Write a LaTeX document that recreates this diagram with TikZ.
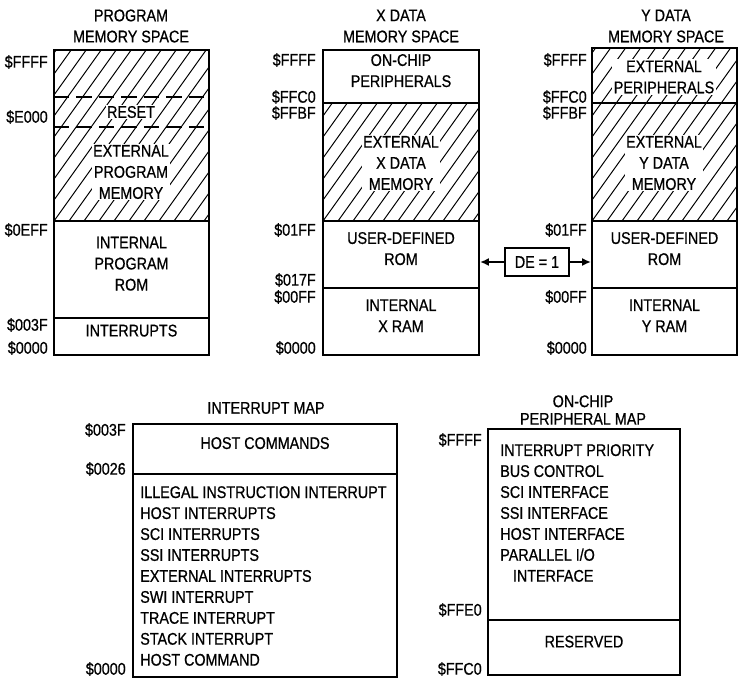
\documentclass[tikz,border=0pt]{standalone}
\usepackage{fontspec}
\setmainfont[FakeStretch=0.85, FakeBold=0.7]{Liberation Sans}
\usetikzlibrary{arrows.meta, positioning, fit}

% diagonal hatching, clipped to a rectangle
\newcommand{\hatcharea}[4]{%
  \begin{scope}
    \clip (#1,#2) rectangle (#3,#4);
    \foreach \h in {-150,-135,...,165}
      \draw[hatch] (#1+\h,#4) -- ++(150,-210);
  \end{scope}}

\begin{document}
\begin{tikzpicture}[x=0.025cm, y=-0.025cm,
        font=\fontsize{12}{15}\selectfont,
        region/.style={draw=black, line width=1.5pt, inner sep=0pt, align=center},
        hlabel/.style={fill=white, inner sep=1pt, align=center},
        addr/.style={anchor=east, inner sep=0pt},
        title/.style={align=center, inner sep=0pt},
        listing/.style={anchor=west, align=left, inner sep=0pt, font=\fontsize{12}{14.9}\selectfont},
        hatch/.style={line width=0.7pt},
        dashline/.style={line width=1.3pt, dash pattern=on 11pt off 5pt},
        arrow/.style={-{Latex[length=2.2mm, width=2mm]}, line width=1.2pt},
        debox/.style={draw=black, line width=1.3pt, minimum width=1.6cm, minimum height=0.7cm}
    ]
        \useasboundingbox (0,0) rectangle (739,680);

        % Program memory space
        \node[title] at (131,26) {PROGRAM\\MEMORY SPACE};
        \hatcharea{54}{50}{209}{221}
        \node[region, fit={(54,50) (209,221)}] (pext) {};
        \draw[dashline] (54,97) -- (209,97);
        \draw[dashline] (54,127) -- (209,127);
        \node[hlabel] (preset) at (131,112) {RESET};
        \node[hlabel] at (131,172) {EXTERNAL\\PROGRAM\\MEMORY};
        \node[region, fit={(54,221) (209,318)}] (prom) {INTERNAL\\PROGRAM\\ROM};
        \node[region, fit={(54,318) (209,355)}] (pint) {INTERRUPTS};
        \node[addr] at (48,62) {\$FFFF};
        \node[addr] at (48,117) {\$E000};
        \node[addr] at (48,230) {\$0EFF};
        \node[addr] at (48,325) {\$003F};
        \node[addr] at (48,348) {\$0000};

        % X data memory space
        \node[title] at (401,26) {X DATA\\MEMORY SPACE};
        \node[region, fit={(323,50) (479,103)}] (xper) {ON-CHIP\\PERIPHERALS};
        \hatcharea{323}{103}{479}{221}
        \node[region, fit={(323,103) (479,221)}] (xext) {};
        \node[hlabel] at (401,163) {EXTERNAL\\X DATA\\MEMORY};
        \node[region, fit={(323,221) (479,288)}] (xrom) {USER-DEFINED\\ROM};
        \node[region, fit={(323,288) (479,355)}] (xram) {INTERNAL\\X RAM};
        \node[addr] at (316,60) {\$FFFF};
        \node[addr] at (316,97) {\$FFC0};
        \node[addr] at (316,113) {\$FFBF};
        \node[addr] at (316,230) {\$01FF};
        \node[addr] at (316,280) {\$017F};
        \node[addr] at (316,297) {\$00FF};
        \node[addr] at (316,348) {\$0000};

        % Y data memory space
        \node[title] at (666,26) {Y DATA\\MEMORY SPACE};
        \hatcharea{592}{48}{737}{221}
        \node[region, fit={(592,48) (737,103)}] (yper) {};
        \node[hlabel] at (664,77) {EXTERNAL\\PERIPHERALS};
        \node[region, fit={(592,103) (737,221)}] (yext) {};
        \node[hlabel] at (664,163) {EXTERNAL\\Y DATA\\MEMORY};
        \node[region, fit={(592,221) (737,288)}] (yrom) {USER-DEFINED\\ROM};
        \node[region, fit={(592,288) (737,355)}] (yram) {INTERNAL\\Y RAM};
        \node[addr] at (587,60) {\$FFFF};
        \node[addr] at (587,97) {\$FFC0};
        \node[addr] at (587,113) {\$FFBF};
        \node[addr] at (587,230) {\$01FF};
        \node[addr] at (587,297) {\$00FF};
        \node[addr] at (587,348) {\$0000};

        % DE switch
        \node[debox] (de) at (537,262) {DE = 1};
        \draw[arrow] (de.west) -- (de.west -| xrom.east);
        \draw[arrow] (de.east) -- (de.east -| yrom.west);

        % Interrupt map
        \node[title] at (266,408) {INTERRUPT MAP};
        \node[region, fit={(133,424) (397,474)}] (ihost) {HOST COMMANDS};
        \node[region, fit={(133,474) (397,677)}] (ivec) {};
        \node[listing] at (140,576) {ILLEGAL INSTRUCTION INTERRUPT\\HOST INTERRUPTS\\SCI INTERRUPTS\\SSI INTERRUPTS\\EXTERNAL INTERRUPTS\\SWI INTERRUPT\\TRACE INTERRUPT\\STACK INTERRUPT\\HOST COMMAND};
        \node[addr] at (126,430) {\$003F};
        \node[addr] at (126,469) {\$0026};
        \node[addr] at (126,669) {\$0000};

        % On-chip peripheral map
        \node[title, font=\fontsize{12}{12.5}\selectfont] at (583,410) {ON-CHIP\\PERIPHERAL MAP};
        \node[region, fit={(488,429) (680,620)}] (mper) {};
        \node[region, fit={(488,620) (680,675)}] (mres) {RESERVED};
        \node[listing] at (500,513) {INTERRUPT PRIORITY\\BUS CONTROL\\SCI INTERFACE\\SSI INTERFACE\\HOST INTERFACE\\PARALLEL I/O\\\hspace*{9pt}INTERFACE};
        \node[addr] at (482,440) {\$FFFF};
        \node[addr] at (482,610) {\$FFE0};
        \node[addr] at (482,669) {\$FFC0};
\end{tikzpicture}
\end{document}
